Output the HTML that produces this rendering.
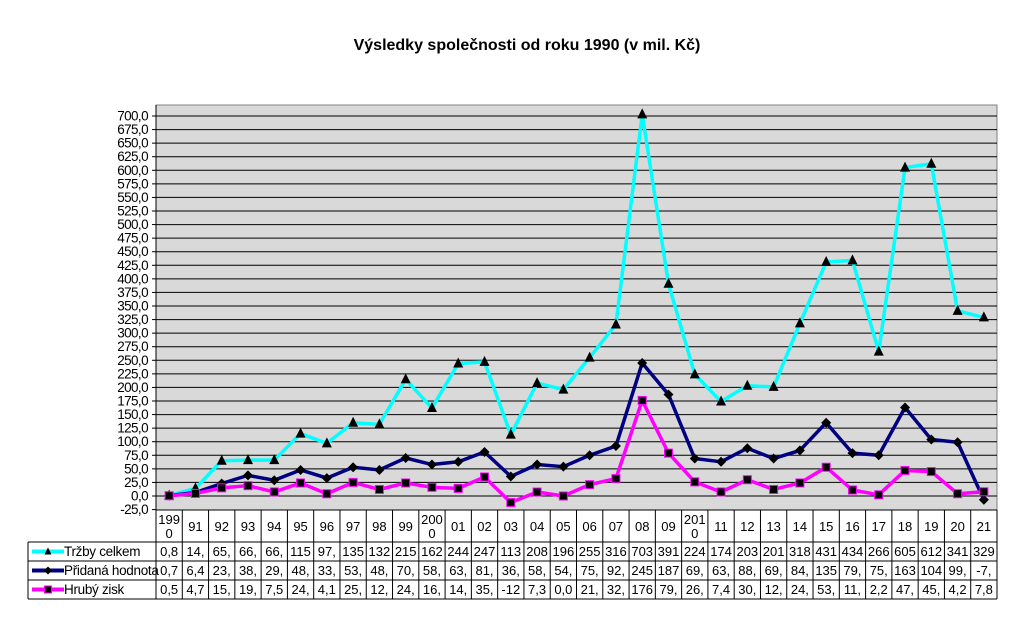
<!DOCTYPE html>
<html><head><meta charset="utf-8"><style>
body{margin:0;background:#fff;width:1035px;height:637px;overflow:hidden}
svg{display:block;font-family:"Liberation Sans",Arial,sans-serif}
</style></head><body>
<svg id="c" width="1035" height="637" xmlns="http://www.w3.org/2000/svg">
<text x="527" y="50" text-anchor="middle" font-size="16" font-weight="bold">Výsledky společnosti od roku 1990 (v mil. Kč)</text>
</svg>
<script>
const categories=["199|0","91","92","93","94","95","96","97","98","99","200|0","01","02","03","04","05","06","07","08","09","201|0","11","12","13","14","15","16","17","18","19","20","21"];
const trzby=[0.8,14,65,66,66,115,97,135,132,215,162,244,247,113,208,196,255,316,703,391,224,174,203,201,318,431,434,266,605,612,341,329];
const pridana=[0.7,6.4,23,38,29,48,33,53,48,70,58,63,81,36,58,54,75,92,245,187,69,63,88,69,84,135,79,75,163,104,99,-7];
const hruby=[0.5,4.7,15,19,7.5,24,4.1,25,12,24,16,14,35,-12,7.3,0.0,21,32,176,79,26,7.4,30,12,24,53,11,2.2,47,45,4.2,7.8];
const yTicks=[-25,0,25,50,75,100,125,150,175,200,225,250,275,300,325,350,375,400,425,450,475,500,525,550,575,600,625,650,675,700];
const seriesNames=["Tržby celkem","Přidaná hodnota","Hrubý zisk"];

const svg=document.getElementById('c');const NS="http://www.w3.org/2000/svg";
const L=156,R=997,T=105,B=510;
const n=categories.length,cw=(R-L)/n;
const y=v=>496-v*(380/700);
const x=i=>L+(i+0.5)*cw;
function el(t,a,p){const e=document.createElementNS(NS,t);for(const k in a)e.setAttribute(k,a[k]);(p||svg).appendChild(e);return e;}
let bg=el('rect',{x:L,y:T,width:R-L,height:B-T,fill:'#d9d9d9',stroke:'#808080'});


yTicks.forEach(v=>{
  if(v>-25){let g=el('line',{x1:L,x2:R,y1:y(v),y2:y(v),stroke:'#000','stroke-width':1});
  
  }
  el('line',{x1:L-4,x2:L,y1:y(v),y2:y(v),stroke:'#000'});
  let t=el('text',{x:L-8,y:y(v)+4.5,'text-anchor':'end','font-size':13.5,'letter-spacing':'-0.6'});
  t.textContent=v.toFixed(1).replace('.',',');
  
  
});
el('line',{x1:L,x2:L,y1:T,y2:B,stroke:'#000'});
const cols=['#00ffff','#000080','#ff00ff'];
const data=[trzby,pridana,hruby];
[0,1,2].forEach(s=>{
  const pts=data[s].map((v,i)=>x(i)+','+y(v)).join(' ');
  let pl=el('polyline',{points:pts,fill:'none',stroke:cols[s],'stroke-width':3.5,'stroke-linejoin':'round'});
  
  
  data[s].forEach((v,i)=>{
    const cx=x(i),cy=y(v);let m;
    if(s===0)m=el('polygon',{points:`${cx},${cy-6} ${cx-5},${cy+4} ${cx+5},${cy+4}`,fill:'#000'});
    else if(s===1)m=el('polygon',{points:`${cx},${cy-5} ${cx+5},${cy} ${cx},${cy+5} ${cx-5},${cy}`,fill:'#000'});
    else m=el('rect',{x:cx-4,y:cy-4,width:8,height:8,fill:'#000',stroke:'#ff00ff','stroke-width':1});
    
    
  });
});
// table
const rowsY=[510,542,561,580,599];
el('line',{x1:L,x2:R,y1:510,y2:510,stroke:'#000'});
[1,2,3,4].forEach(r=>el('line',{x1:28,x2:R,y1:rowsY[r],y2:rowsY[r],stroke:'#000'}));
el('line',{x1:28,x2:28,y1:542,y2:599,stroke:'#000'});
for(let i=0;i<=n;i++)el('line',{x1:L+i*cw,x2:L+i*cw,y1:510,y2:599,stroke:'#000'});
categories.forEach((c,i)=>{
  const parts=c.split('|');
  parts.forEach((p,k)=>{
    let t=el('text',{x:x(i),y:parts.length>1?524+k*14:531,'text-anchor':'middle','font-size':13});
    t.textContent=p;
    
    
  });
});
function fmt(v){return v.toFixed(1).replace('.',',').slice(0,3);}
data.forEach((d,s)=>{
  const ry=rowsY[s+1]+14;
  d.forEach((v,i)=>{let t=el('text',{x:x(i),y:ry,'text-anchor':'middle','font-size':13});t.textContent=fmt(v);
    
    });
  const my=rowsY[s+1]+9.5;
  el('line',{x1:32,x2:64,y1:my,y2:my,stroke:cols[s],'stroke-width':4});
  if(s===0)el('polygon',{points:`48,${my-4} 44.5,${my+3} 51.5,${my+3}`,fill:'#000'});
  else if(s===1)el('polygon',{points:`48,${my-4} 52,${my} 48,${my+4} 44,${my}`,fill:'#000'});
  else el('rect',{x:44.5,y:my-3.5,width:7,height:7,fill:'#000',stroke:'#f0f'});
  let t=el('text',{x:64,y:ry,'font-size':13.5,'letter-spacing':'-0.3'});t.textContent=seriesNames[s];
  
  
});
</script>
</body></html>
